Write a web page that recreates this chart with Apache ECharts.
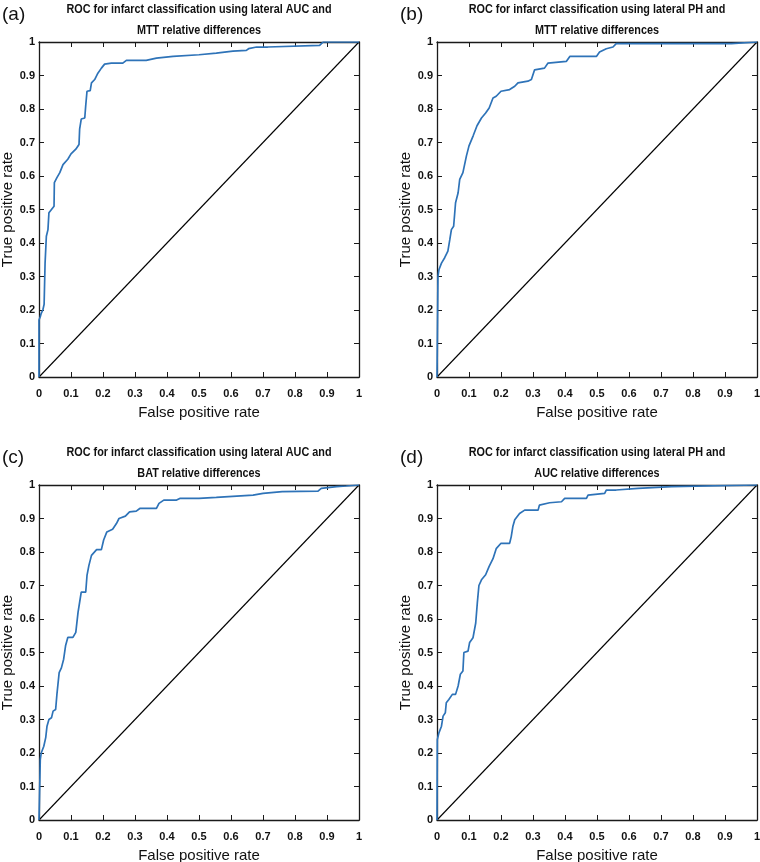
<!DOCTYPE html>
<html>
<head>
<meta charset="utf-8">
<script src="https://cdn.jsdelivr.net/npm/echarts@6.0.0/dist/echarts.min.js"></script>
<style>
html,body{margin:0;padding:0;background:#fff;}
#chart{width:760px;height:862px;}
</style>
</head>
<body>
<div id="chart"></div>
<script>
// ---- data ----
const panelLabels = ['(a)', '(b)', '(c)', '(d)'];
const titleLine1 = [
  'ROC for infarct classification using lateral AUC and',
  'ROC for infarct classification using lateral PH and',
  'ROC for infarct classification using lateral AUC and',
  'ROC for infarct classification using lateral PH and'
];
const titleLine2 = [
  'MTT relative differences',
  'MTT relative differences',
  'BAT relative differences',
  'AUC relative differences'
];
const xTickLabels = ['0','0.1','0.2','0.3','0.4','0.5','0.6','0.7','0.8','0.9','1'];
const xAxisName = 'False positive rate';
const yAxisName = 'True positive rate';
const chanceFpr = [0, 1];
const chanceTpr = [0, 1];

const fprA = [0,0,0.004,0.007,0.012,0.016,0.019,0.019,0.022,0.023,0.028,0.031,0.039,0.047,0.048,0.056,0.065,0.075,0.09,0.10,0.115,0.125,0.127,0.132,0.143,0.146,0.15,0.16,0.164,0.174,0.184,0.195,0.205,0.226,0.262,0.273,0.335,0.367,0.419,0.5,0.554,0.606,0.648,0.655,0.68,0.715,0.72,0.877,0.888,1];
const tprA = [0,0.17,0.18,0.19,0.2,0.217,0.22,0.34,0.40,0.42,0.44,0.49,0.5,0.51,0.58,0.595,0.61,0.634,0.65,0.666,0.68,0.694,0.74,0.77,0.773,0.81,0.853,0.855,0.878,0.888,0.907,0.922,0.934,0.937,0.937,0.945,0.945,0.952,0.957,0.962,0.967,0.973,0.975,0.98,0.985,0.985,0.99,0.99,1,1];

const fprB = [0,0.003,0.006,0.014,0.024,0.034,0.04,0.045,0.052,0.058,0.066,0.071,0.081,0.092,0.10,0.113,0.125,0.139,0.152,0.163,0.175,0.185,0.20,0.227,0.243,0.253,0.284,0.295,0.305,0.336,0.347,0.404,0.415,0.498,0.508,0.529,0.55,0.56,0.92,0.925,1];
const tprB = [0,0.30,0.32,0.34,0.356,0.376,0.41,0.44,0.45,0.52,0.55,0.59,0.61,0.66,0.69,0.72,0.75,0.773,0.788,0.803,0.833,0.838,0.853,0.858,0.868,0.878,0.883,0.888,0.917,0.922,0.937,0.942,0.957,0.957,0.97,0.98,0.985,0.995,0.995,1,1];

const fprC = [0,0.004,0.007,0.015,0.021,0.025,0.031,0.039,0.044,0.052,0.056,0.063,0.07,0.077,0.083,0.09,0.106,0.115,0.122,0.127,0.132,0.146,0.15,0.156,0.164,0.18,0.195,0.202,0.212,0.23,0.242,0.25,0.27,0.283,0.304,0.315,0.367,0.375,0.39,0.43,0.44,0.5,0.554,0.669,0.70,0.76,0.872,0.882,0.93,0.96,1];
const tprC = [0,0.18,0.20,0.22,0.246,0.28,0.30,0.305,0.325,0.33,0.375,0.44,0.454,0.48,0.52,0.545,0.545,0.56,0.62,0.65,0.68,0.68,0.73,0.76,0.79,0.807,0.807,0.836,0.86,0.868,0.885,0.90,0.907,0.92,0.922,0.93,0.93,0.945,0.955,0.955,0.96,0.96,0.963,0.97,0.975,0.98,0.982,0.99,0.995,0.997,1];

const fprD = [0,0.001,0.006,0.014,0.019,0.026,0.029,0.037,0.048,0.058,0.066,0.073,0.081,0.084,0.097,0.102,0.1125,0.121,0.126,0.131,0.139,0.152,0.163,0.175,0.185,0.2,0.227,0.232,0.237,0.243,0.258,0.274,0.316,0.32,0.352,0.389,0.399,0.467,0.472,0.524,0.529,0.56,0.566,0.628,0.633,0.733,0.738,1];
const tprD = [0,0.24,0.26,0.28,0.31,0.32,0.35,0.36,0.375,0.375,0.40,0.435,0.445,0.50,0.504,0.53,0.544,0.588,0.648,0.70,0.717,0.732,0.757,0.78,0.81,0.826,0.826,0.846,0.876,0.896,0.915,0.925,0.925,0.94,0.947,0.95,0.96,0.96,0.97,0.975,0.985,0.985,0.99,0.99,0.995,0.995,1,1];

const curves = [[fprA,tprA],[fprB,tprB],[fprC,tprC],[fprD,tprD]];

// ---- layout ----
const gridPos = [
  {left:39, top:42, width:320, height:335},
  {left:437, top:42, width:320, height:335},
  {left:39, top:485, width:320, height:335},
  {left:437, top:485, width:320, height:335}
];
const AXIS_COLOR = '#1a1a1a';
const CURVE_COLOR = '#2e73b8';
const TICK_FONT = {fontSize:11, fontWeight:'bold', color:'#111', fontFamily:'"Liberation Sans",Arial,sans-serif'};
const TITLE_FONT_CSS = 'bold 13.5px "Liberation Sans", Arial, sans-serif';
const TITLE_TARGET_WIDTH = 265;

// measure title width to derive a horizontal condensing factor
const measureCtx = document.createElement('canvas').getContext('2d');
measureCtx.font = TITLE_FONT_CSS;
const refW = measureCtx.measureText('ROC for infarct classification using lateral AUC and').width;
const titleScaleX = TITLE_TARGET_WIDTH / refW;

const zip = (xs, ys) => xs.map((x, i) => [x, ys[i]]);

const grids = [], xAxes = [], yAxes = [], series = [], titleList = [], graphics = [];
gridPos.forEach((g, i) => {
  grids.push(Object.assign({outerBoundsMode:'none', containLabel:false, show:false}, g));
  const baseLine = {show:true, onZero:false, lineStyle:{color:AXIS_COLOR, width:1.3}};
  const tick = {show:true, inside:true, length:5, lineStyle:{color:AXIS_COLOR, width:1}};
  xAxes.push({
    type:'value', gridIndex:i, min:0, max:1, interval:0.1, position:'bottom',
    axisLine:baseLine, axisTick:tick, splitLine:{show:false},
    axisLabel:Object.assign({margin:11, formatter:(v)=>xTickLabels[Math.round(v*10)]}, TICK_FONT),
    name:xAxisName, nameLocation:'middle', nameGap:28,
    nameTextStyle:{fontSize:15, color:'#111', fontFamily:'"Liberation Sans",Arial,sans-serif'}
  });
  xAxes.push({
    type:'value', gridIndex:i, min:0, max:1, interval:0.1, position:'top',
    axisLine:baseLine, axisTick:tick, splitLine:{show:false}, axisLabel:{show:false}
  });
  yAxes.push({
    type:'value', gridIndex:i, min:0, max:1, interval:0.1, position:'left',
    axisLine:baseLine, axisTick:tick, splitLine:{show:false},
    axisLabel:Object.assign({margin:4, formatter:(v)=>xTickLabels[Math.round(v*10)]}, TICK_FONT),
    name:yAxisName, nameLocation:'middle', nameGap:19,
    nameTextStyle:{fontSize:15, color:'#111', fontFamily:'"Liberation Sans",Arial,sans-serif'}
  });
  yAxes.push({
    type:'value', gridIndex:i, min:0, max:1, interval:0.1, position:'right',
    axisLine:baseLine, axisTick:tick, splitLine:{show:false}, axisLabel:{show:false}
  });
  series.push({
    type:'line', xAxisIndex:2*i, yAxisIndex:2*i, data:zip(chanceFpr, chanceTpr),
    showSymbol:false, symbol:'none', lineStyle:{color:'#000', width:1.1}, z:3, silent:true
  });
  series.push({
    type:'line', xAxisIndex:2*i, yAxisIndex:2*i, data:zip(curves[i][0], curves[i][1]),
    showSymbol:false, symbol:'none', lineStyle:{color:CURVE_COLOR, width:1.7}, z:4, silent:true
  });
  const cx = g.left + g.width / 2;
  [[titleLine1[i], g.top - 32.5], [titleLine2[i], g.top - 12]].forEach(([t, cy]) => {
    graphics.push({
      type:'text', x:cx, y:cy, scaleX:titleScaleX, scaleY:1, silent:true,
      style:{text:t, font:TITLE_FONT_CSS, fill:'#111', align:'center', verticalAlign:'middle'}
    });
  });
  titleList.push({
    text:panelLabels[i], left:g.left - 37, top:g.top - 37, padding:0,
    textStyle:{fontSize:19, fontWeight:'normal', color:'#111', fontFamily:'"Liberation Sans",Arial,sans-serif'}
  });
});

const chart = echarts.init(document.getElementById('chart'), null, {renderer:'canvas'});
chart.setOption({
  animation:false,
  backgroundColor:'#fff',
  title:titleList,
  grid:grids,
  xAxis:xAxes,
  yAxis:yAxes,
  series:series,
  graphic:graphics
});
</script>
</body>
</html>
